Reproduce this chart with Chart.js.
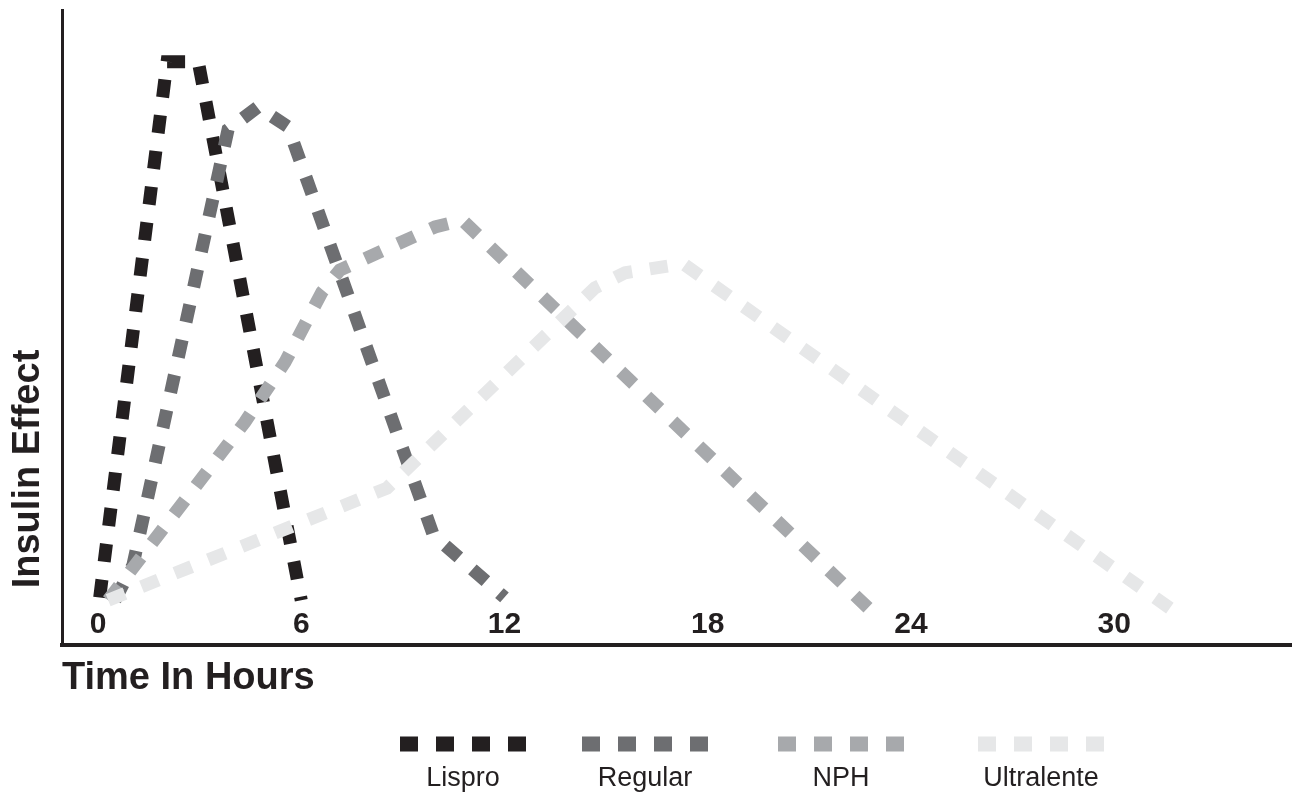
<!DOCTYPE html>
<html>
<head>
<meta charset="utf-8">
<script src="https://cdn.jsdelivr.net/npm/chart.js@4.4.1/dist/chart.umd.min.js"></script>
<style>
  html, body { margin: 0; padding: 0; background: #fff; }
</style>
</head>
<body>
<canvas id="chart" width="1292" height="794"></canvas>
<script>
const tickHours = [0, 6, 12, 18, 24, 30];
const seriesNames = ['Lispro', 'Regular', 'NPH', 'Ultralente'];
const seriesColors = ['#231f20', '#6d6e71', '#a7a9ac', '#e6e7e8'];

// insulin effect curves (hours, relative effect)
const lisproHours = [0.05, 2.04, 2.96, 6.0];
const lisproEffect = [0.5, 100, 100, 0];

const regularHours = [0.5, 1.03, 3.84, 4.72, 5.61, 9.9, 12.0];
const regularEffect = [0, 6.5, 87.4, 91.6, 87.9, 12.1, 0.5];

const nphHours = [0.3, 4.34, 5.52, 6.61, 7.14, 9.95, 10.75, 23.03];
const nphEffect = [0, 33.1, 44.2, 57.2, 61.3, 69.3, 70.6, -3.2];

const ultraHours = [0.3, 8.53, 14.67, 15.56, 17.27, 32.03];
const ultraEffect = [0, 20.8, 58.0, 60.8, 62.5, -3.2];

const allHours = [lisproHours, regularHours, nphHours, ultraHours];
const allEffect = [lisproEffect, regularEffect, nphEffect, ultraEffect];

const FONT = '"Liberation Sans", Arial, sans-serif';
const INK = '#231f20';

const datasets = seriesNames.map((name, i) => ({
  label: name,
  data: allHours[i].map((h, j) => ({ x: h, y: allEffect[i][j] })),
  borderColor: seriesColors[i],
  borderWidth: 13,
  borderDash: [18, 18],
  borderCapStyle: 'butt',
  borderJoinStyle: 'miter',
  pointRadius: 0,
  fill: false,
  tension: 0,
  order: seriesNames.length - 1 - i
}));

// y title and the legend (dash sample above the name)
const extras = {
  id: 'extras',
  afterDraw(chart) {
    const c = chart.ctx;
    c.save();
    c.fillStyle = INK;
    c.font = 'bold 38px ' + FONT;
    c.textAlign = 'center';
    c.textBaseline = 'middle';
    c.translate(29, 469);
    c.rotate(-Math.PI / 2);
    c.fillText('Insulin Effect', 0, 0);
    c.restore();

    const centers = [463, 645, 841, 1041];
    c.save();
    chart.data.datasets.forEach((ds, i) => {
      const cx = centers[i];
      c.strokeStyle = ds.borderColor;
      c.lineWidth = 15;
      c.lineCap = 'butt';
      c.setLineDash(ds.borderDash);
      c.beginPath();
      c.moveTo(cx - 63, 744);
      c.lineTo(cx + 63, 744);
      c.stroke();
      c.setLineDash([]);
      c.fillStyle = INK;
      c.font = '27px ' + FONT;
      c.textAlign = 'center';
      c.textBaseline = 'alphabetic';
      c.fillText(ds.label, cx, 786);
    });
    c.restore();
  }
};

new Chart(document.getElementById('chart'), {
  type: 'line',
  data: { datasets },
  options: {
    responsive: false,
    animation: false,
    layout: { padding: { left: 62, top: 10, right: 0, bottom: 93 } },
    plugins: {
      legend: { display: false },
      tooltip: { enabled: false }
    },
    scales: {
      x: {
        type: 'linear',
        min: -1.063,
        max: 35.25,
        grid: { display: false, drawTicks: false },
        border: { display: true, color: INK, width: 4 },
        afterBuildTicks: (scale) => {
          scale.ticks = tickHours.map(v => ({ value: v }));
        },
        ticks: {
          mirror: true,
          padding: 3,
          autoSkip: false,
          maxRotation: 0,
          color: INK,
          font: { family: FONT, size: 30, weight: 'bold' }
        },
        title: {
          display: true,
          text: 'Time In Hours',
          align: 'start',
          color: INK,
          font: { family: FONT, size: 38, weight: 'bold' },
          padding: { top: 4, bottom: 0 }
        }
      },
      y: {
        type: 'linear',
        min: -8.4,
        max: 109.6,
        grid: { display: false, drawTicks: false },
        border: { display: true, color: INK, width: 3 },
        ticks: { display: false }
      }
    }
  },
  plugins: [extras]
});
</script>
</body>
</html>
